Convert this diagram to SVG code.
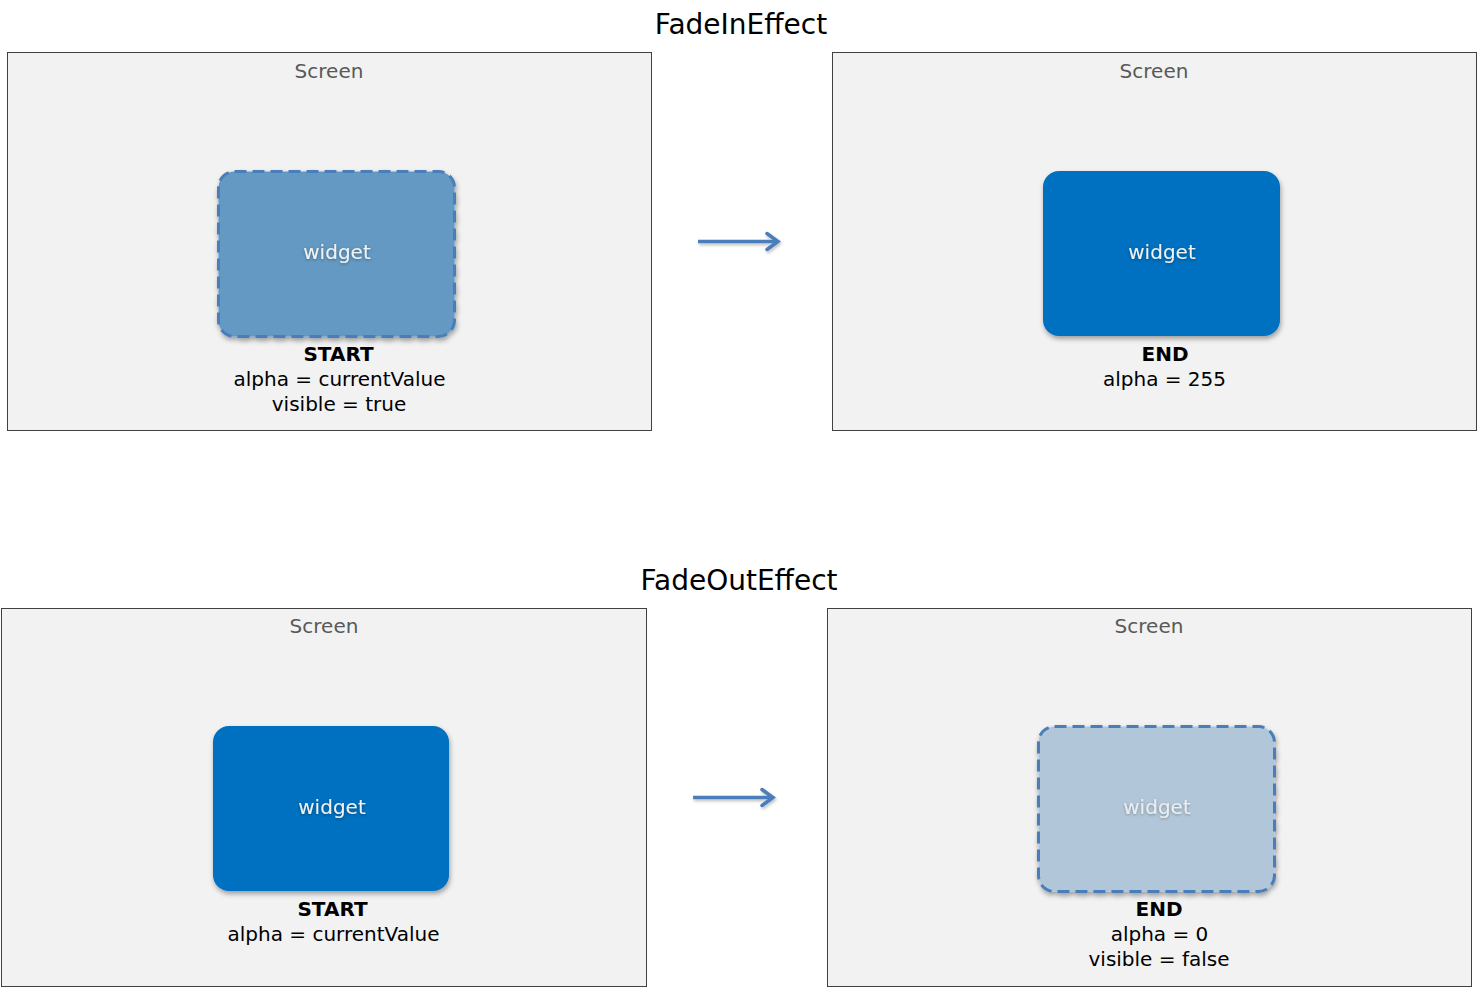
<svg xmlns="http://www.w3.org/2000/svg" width="1478" height="988" viewBox="0 0 1478 988">
<style>
text{font-family:"DejaVu Sans","Verdana",sans-serif;}
.title{font-size:28px;fill:#000;text-anchor:middle;}
.screen{fill:#f2f2f2;stroke:#404040;stroke-width:1;}
.slabel{font-size:20px;fill:#595959;text-anchor:middle;}
.solid{fill:#0070c0;filter:url(#sh);}
.faded{fill:#6399c2;stroke:#4a7ebb;stroke-width:3;stroke-dasharray:12 6;filter:url(#sh);}
.faded2{fill:#b1c7d9;stroke:#4a7ebb;stroke-width:3;stroke-dasharray:12 6;filter:url(#sh);}
.wl{font-size:20px;fill:#f2f2f2;text-anchor:middle;filter:url(#tsh);}
.info{font-size:20px;fill:#000;text-anchor:middle;}
.b{font-weight:bold;}
.arrow{stroke:#4a7ebb;stroke-width:3.5;fill:none;marker-end:url(#ah);filter:url(#sh2);}
</style>
<defs>
<filter id="sh" x="-10%" y="-10%" width="125%" height="130%">
<feDropShadow dx="1" dy="3" stdDeviation="2.5" flood-color="#000" flood-opacity="0.35"/>
</filter>
<filter id="sh2" filterUnits="userSpaceOnUse" x="0" y="0" width="1478" height="988">
<feDropShadow dx="1" dy="2" stdDeviation="1.5" flood-color="#000" flood-opacity="0.25"/>
</filter>
<filter id="tsh" x="-10%" y="-30%" width="130%" height="170%">
<feDropShadow dx="0" dy="1" stdDeviation="1.5" flood-color="#000" flood-opacity="0.35"/>
</filter>
<marker id="ah" markerWidth="18" markerHeight="22" refX="13" refY="11" orient="auto" markerUnits="userSpaceOnUse" viewBox="0 0 18 22">
<path d="M2,3 L13,11 L2,19" fill="none" stroke="#4a7ebb" stroke-width="3.5" stroke-linejoin="miter" stroke-linecap="round"/>
</marker>
</defs>
<rect width="1478" height="988" fill="#fff"/>

<text class="title" x="741" y="34">FadeInEffect</text>
<text class="title" x="739" y="590">FadeOutEffect</text>

<g id="screen-fadein-start">
<rect class="screen" x="7.5" y="52.5" width="644" height="378"/>
<text class="slabel" x="329" y="78">Screen</text>
<rect class="faded" x="218.5" y="171.5" width="236" height="165" rx="16"/>
<text class="wl" x="337" y="259">widget</text>
<text class="info b" x="338.5" y="361">START</text>
<text class="info" x="339.5" y="386">alpha = currentValue</text>
<text class="info" x="339" y="411">visible = true</text>
</g>

<g id="screen-fadein-end">
<rect class="screen" x="832.5" y="52.5" width="644" height="378"/>
<text class="slabel" x="1154" y="78">Screen</text>
<rect class="solid" x="1043" y="171" width="237" height="165" rx="16"/>
<text class="wl" x="1162" y="259">widget</text>
<text class="info b" x="1165" y="361">END</text>
<text class="info" x="1164.5" y="386">alpha = 255</text>
</g>

<g id="screen-fadeout-start">
<rect class="screen" x="1.5" y="608.5" width="645" height="378"/>
<text class="slabel" x="324" y="633">Screen</text>
<rect class="solid" x="213" y="726" width="236" height="165" rx="16"/>
<text class="wl" x="332" y="814">widget</text>
<text class="info b" x="332.5" y="916">START</text>
<text class="info" x="333.5" y="941">alpha = currentValue</text>
</g>

<g id="screen-fadeout-end">
<rect class="screen" x="827.5" y="608.5" width="644" height="378"/>
<text class="slabel" x="1149" y="633">Screen</text>
<rect class="faded2" x="1038.5" y="726.5" width="236" height="165" rx="16"/>
<text class="wl" x="1157" y="814" fill-opacity="0.9">widget</text>
<text class="info b" x="1159" y="916">END</text>
<text class="info" x="1159.5" y="941">alpha = 0</text>
<text class="info" x="1159" y="966">visible = false</text>
</g>

<g id="connectors">
<line class="arrow" x1="698" y1="241.5" x2="778" y2="241.5"/>
<line class="arrow" x1="693" y1="797.5" x2="773" y2="797.5"/>
</g>
</svg>
